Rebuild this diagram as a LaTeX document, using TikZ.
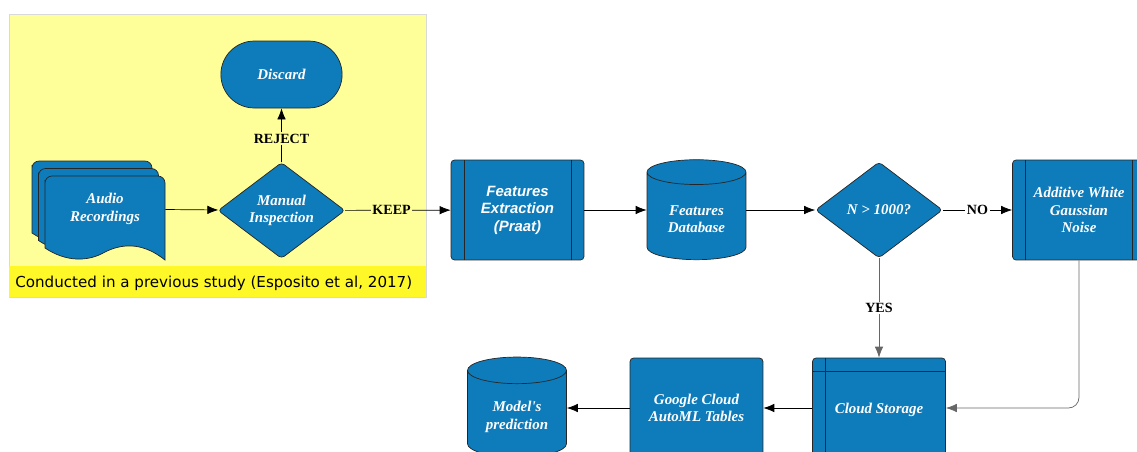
\documentclass[tikz,border=0pt]{standalone}
\usepackage{fontspec}
\setmainfont{Liberation Serif}
\newfontfamily\capfont{DejaVu Sans}
\newfontfamily\praatfont{Liberation Sans}
\usetikzlibrary{shapes.geometric,shapes.misc,arrows.meta}
\definecolor{boxblue}{RGB}{14,123,186}
\definecolor{paleyellow}{RGB}{255,255,153}
\definecolor{bandyellow}{RGB}{255,248,40}
\begin{document}
\begin{tikzpicture}[x = 0.02cm, y = -0.02cm,
        blk/.style = {draw = black!85, fill = boxblue, text = white, align = center,
            font = \fontsize{8.5}{10}\selectfont\bfseries\itshape},
        proc/.style = {blk, rectangle, rounded corners = 2pt, minimum width = 2.66cm, minimum height = 2cm},
        sideproc/.style = {proc, path picture = {
            \draw ([xshift = 0.26cm]path picture bounding box.north west) -- ([xshift = 0.26cm]path picture bounding box.south west);
            \draw ([xshift = -0.26cm]path picture bounding box.north east) -- ([xshift = -0.26cm]path picture bounding box.south east);}},
        storeproc/.style = {proc, path picture = {
            \draw ([xshift = 0.26cm]path picture bounding box.north west) -- ([xshift = 0.26cm]path picture bounding box.south west);
            \draw ([yshift = -0.26cm]path picture bounding box.north west) -- ([yshift = -0.26cm]path picture bounding box.north east);}},
        cyl/.style = {blk, cylinder, shape border rotate = 90, shape aspect = 0.36, minimum width = 1.98cm, minimum height = 2cm},
        dec/.style = {blk, diamond, inner sep = 0pt, rounded corners = 2pt, minimum width = 2.54cm, minimum height = 1.92cm},
        lbl/.style = {font = \fontsize{8}{9}\selectfont\bfseries, inner sep = 1pt},
        arr/.style = {-{Latex[length = 2.2mm, width = 1.7mm]}}]
    \useasboundingbox (0, 0) rectangle (1137, 451);
    \clip (0, 0) rectangle (1137, 451);
    % earlier study
    \filldraw[fill = paleyellow, draw = black!15] (9, 14) rectangle (426, 297);
    \fill[bandyellow] (9, 266) rectangle (426, 297);
    \node[anchor = west, inner sep = 0pt, font = \capfont\fontsize{8.6}{10}\selectfont] (study) at (15, 283) {Conducted in a previous study (Esposito et al, 2017)};
    \foreach \k in {2, 1, 0}
        {\filldraw[fill = boxblue, draw = black!85, shift = {(-6.5*\k, -7.5*\k)}]
            (45, 180) [rounded corners = 4pt] -- (45, 176) -- (165, 176) [sharp corners] -- (165, 260)
            .. controls (145, 244) and (125, 242) .. (105, 252)
            .. controls (88, 262) and (66, 262) .. (45, 248) -- cycle;};
    \node[text = white, align = center, font = \fontsize{8.5}{10}\selectfont\bfseries\itshape,
        minimum width = 2.4cm] (audio) at (105, 209) {Audio\\Recordings};
    \node[dec] (manual) at (281.5, 210.5) {Manual\\Inspection};
    \node[blk, rounded rectangle, minimum width = 2.66cm, minimum height = 1.34cm] (discard) at (281.5, 74.5) {Discard};
    % main flow
    \node[sideproc, font = \praatfont\fontsize{8.5}{10}\selectfont\bfseries\itshape] (praat) at (517.5, 210) {Features\\Extraction\\(Praat)};
    \node[cyl] (featdb) at (696.5, 219) {Features\\Database};
    \node[dec] (enough) at (879, 210) {N > 1000?};
    \node[sideproc] (noise) at (1079, 210) {Additive White\\Gaussian\\Noise};
    \node[storeproc] (storage) at (879, 408) {\\[-2pt]Cloud Storage};
    \node[proc] (automl) at (696.5, 408) {Google Cloud\\AutoML Tables};
    \node[cyl] (predict) at (517, 417) {Model\textquotesingle s\\prediction};
    \draw[arr] (audio) -- (manual);
    \draw[arr] (manual) -- node[lbl, fill = paleyellow, pos = 0.44] {REJECT} (discard);
    \draw[arr] (manual) -- node[lbl, fill = paleyellow, pos = 0.44] {KEEP} (praat);
    \draw[arr] (praat) -- (praat -| featdb.west);
    \draw[arr] (featdb.east |- enough) -- (enough);
    \draw[arr] (enough) -- node[lbl, fill = white] {NO} (noise);
    \draw[arr, black!60] (enough) -- node[lbl, fill = white, text = black] {YES} (storage);
    \draw[arr, black!60, rounded corners = 6pt] (noise) |- (storage);
    \draw[arr] (storage) -- (automl);
    \draw[arr] (automl) -- (automl -| predict.east);
\end{tikzpicture}
\end{document}
